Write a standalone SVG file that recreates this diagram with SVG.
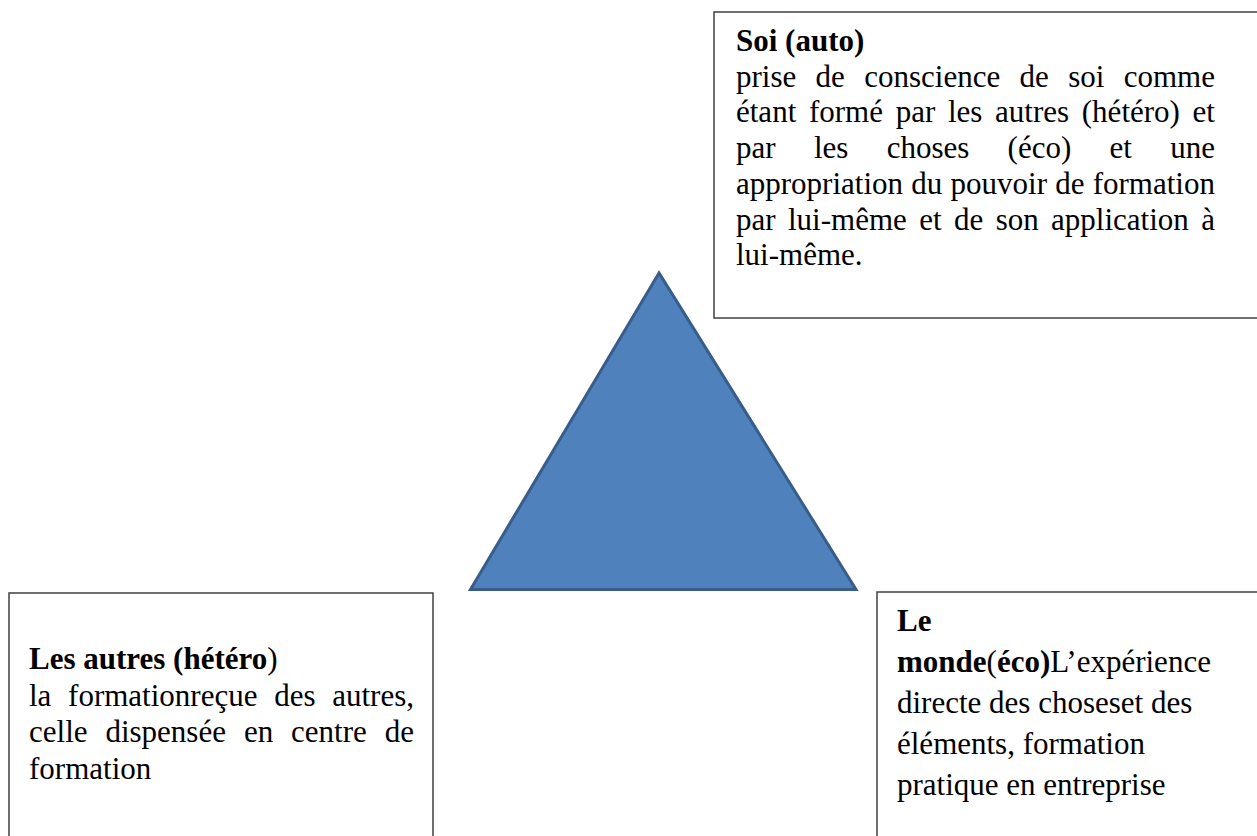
<svg xmlns="http://www.w3.org/2000/svg" width="1257" height="836" viewBox="0 0 1257 836">
<style>
.t{font-family:"Liberation Serif","Times New Roman",serif;font-size:31px;fill:#000}
.b{font-weight:bold}
.box{fill:#fff;stroke:#404040;stroke-width:1.5}
.tri{fill:#4F81BD;stroke:#385D8A;stroke-width:3;stroke-linejoin:miter}
</style>
<rect width="1257" height="836" fill="#fff"/>
<g id="soi">
<rect class="box" x="714" y="12" width="560" height="306"/>
<text class="t b" x="736" y="51">Soi (auto)</text>
<text class="t" y="86.7"><tspan x="736">prise</tspan><tspan x="815.6">de</tspan><tspan x="864.2">conscience</tspan><tspan x="1019.6">de</tspan><tspan x="1068.2">soi</tspan><tspan x="1123.7">comme</tspan></text>
<text class="t" y="122.4"><tspan x="736">étant</tspan><tspan x="808.95">formé</tspan><tspan x="895.67">par</tspan><tspan x="947.95">les</tspan><tspan x="995.08">autres</tspan><tspan x="1081.8">(hétéro)</tspan><tspan x="1192.6">et</tspan></text>
<text class="t" y="158.1"><tspan x="736">par</tspan><tspan x="813.89">les</tspan><tspan x="886.63">choses</tspan><tspan x="1007.58">(éco)</tspan><tspan x="1109.55">et</tspan><tspan x="1170.23">une</tspan></text>
<text class="t" y="193.8"><tspan x="736">appropriation</tspan><tspan x="911.28">du</tspan><tspan x="950.53">pouvoir</tspan><tspan x="1055.22">de</tspan><tspan x="1092.73">formation</tspan></text>
<text class="t" y="229.5"><tspan x="736">par</tspan><tspan x="787.99">lui-même</tspan><tspan x="919.21">et</tspan><tspan x="953.99">de</tspan><tspan x="995.65">son</tspan><tspan x="1051.11">application</tspan><tspan x="1201.27">à</tspan></text>
<text class="t" x="736" y="265.2">lui-même.</text>
</g>
<g id="triangle">
<polygon class="tri" points="659,273 470.5,589.5 856,589.5"/>
</g>
<g id="autres">
<rect class="box" x="9" y="593" width="424" height="260"/>
<text class="t" x="29" y="669"><tspan class="b">Les autres (hétéro</tspan>)</text>
<text class="t" y="705.5"><tspan x="29">la</tspan><tspan x="68.1">formationreçue</tspan><tspan x="274.2">des</tspan><tspan x="332.2">autres,</tspan></text>
<text class="t" y="742"><tspan x="29">celle</tspan><tspan x="105.45">dispensée</tspan><tspan x="243.9">en</tspan><tspan x="291.08">centre</tspan><tspan x="384.73">de</tspan></text>
<text class="t" x="29" y="778.5">formation</text>
</g>
<g id="monde">
<rect class="box" x="877" y="592" width="400" height="260"/>
<text class="t b" x="897" y="631">Le</text>
<text class="t" x="897" y="672"><tspan class="b">monde</tspan>(<tspan class="b">éco)</tspan>L’expérience</text>
<text class="t" x="897" y="713">directe des choseset des</text>
<text class="t" x="897" y="754">éléments, formation</text>
<text class="t" x="897" y="795">pratique en entreprise</text>
</g>
</svg>
